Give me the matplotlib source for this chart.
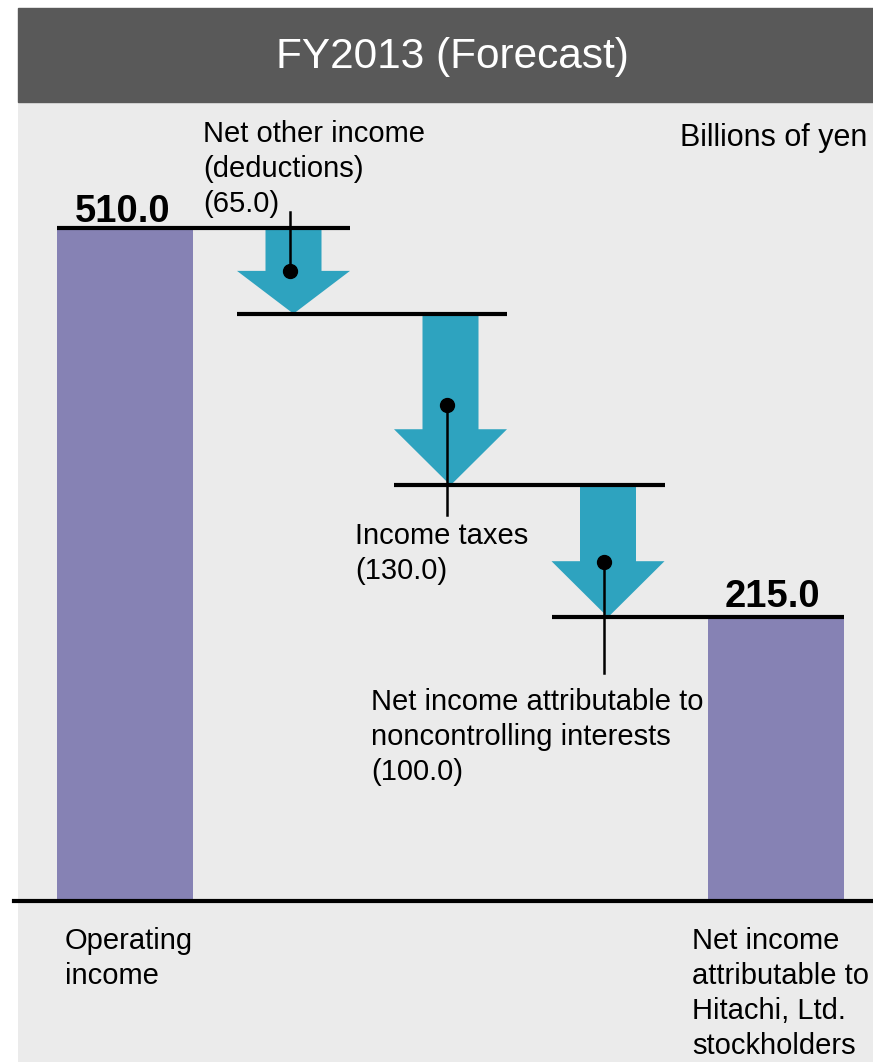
import numpy as np
import matplotlib.pyplot as plt
from matplotlib.patches import Rectangle

plt.rcParams['font.family'] = ['Liberation Sans', 'DejaVu Sans']

# data (billions of yen)
title = 'FY2013 (Forecast)'
unit_label = 'Billions of yen'
step_names = ['Operating\nincome',
              'Net other income\n(deductions)',
              'Income taxes',
              'Net income attributable to\nnoncontrolling interests',
              'Net income\nattributable to\nHitachi, Ltd.\nstockholders']
amounts = [510.0, -65.0, -130.0, -100.0, 215.0]
is_total = [True, False, False, False, True]

bar_color = '#8682b4'
arrow_color = '#2ea3bf'

W, H = 873, 1062
fig = plt.figure(figsize=(W / 100, H / 100), dpi=100)

# dark header strip
fig.patches.append(Rectangle((18 / W, 1 - 102 / H), 1 - 18 / W, 94 / H,
                             transform=fig.transFigure, color='#595959', zorder=0))
fig.text(452 / W, 1 - 57 / H, title, color='white', fontsize=30.5,
         ha='center', va='center')

ax = fig.add_axes([18 / W, 0, 1 - 18 / W, (H - 102) / H])
ax.set_facecolor('#ebebeb')
px = 673 / 510  # pixels per billion yen
ax.set_xlim(18, 873)
ax.set_ylim(-(H - 901) / px, (901 - 102) / px)
ax.set_xticks([])
ax.set_yticks([])
for s in ax.spines.values():
    s.set_visible(False)

xpos = [125, 293.5, 450.5, 608, 776]
bar_w, shaft_w, head_w = 136, 56, 113

levels = np.cumsum(amounts)
levels[-1] = amounts[-1]
for i, (v, tot) in enumerate(zip(amounts, is_total)):
    if tot:
        ax.bar(xpos[i], v, width=bar_w, color=bar_color, zorder=1)
    else:
        top = levels[i - 1]
        hl = min(42.5, 0.5 * abs(v))
        ax.arrow(xpos[i], top, 0, v, width=shaft_w, head_width=head_w,
                 head_length=hl, length_includes_head=True,
                 color=arrow_color, lw=0, zorder=1)

# connector lines between the steps
half = [bar_w / 2 if t else head_w / 2 for t in is_total]
for i in range(len(amounts) - 1):
    ax.plot([xpos[i] - half[i], xpos[i + 1] + half[i + 1]], [levels[i], levels[i]],
            color='black', lw=3, solid_capstyle='butt', zorder=3)

# baseline
ax.plot([14, 873], [0, 0], color='black', lw=3, clip_on=False, zorder=3)

# callout dots and leader lines for the deductions
dot_y = [477.4, 375.9, 256.9]
lead_end = [522.1, 292.5, 172.8]
for k, i in enumerate([1, 2, 3]):
    x = xpos[i] - 4
    ax.plot([x, x], [dot_y[k], lead_end[k]], color='black', lw=1.8, zorder=4)
    ax.plot(x, dot_y[k], 'o', color='black', ms=10, zorder=5)

fs = 21
ls = 1.32
ax.text(203, 591.8, step_names[1] + '\n({:.1f})'.format(-amounts[1]),
        fontsize=fs, va='top', ha='left', linespacing=ls)
ax.text(355, 287.2, step_names[2] + '\n({:.1f})'.format(-amounts[2]),
        fontsize=fs, va='top', ha='left', linespacing=ls)
ax.text(371, 161.4, step_names[3] + '\n({:.1f})'.format(-amounts[3]),
        fontsize=fs, va='top', ha='left', linespacing=ls)
ax.text(65, -19.7, step_names[0], fontsize=fs, va='top', ha='left', linespacing=ls)
ax.text(692, -19.7, step_names[4], fontsize=fs, va='top', ha='left', linespacing=ls)
ax.text(867, 589.6, unit_label, fontsize=22, va='top', ha='right')

ax.text(122.5, amounts[0] + 4.5, '{:.1f}'.format(amounts[0]), fontsize=27.5,
        fontweight='bold', ha='center', va='baseline')
ax.text(772, amounts[4] + 7.5, '{:.1f}'.format(amounts[4]), fontsize=27.5,
        fontweight='bold', ha='center', va='baseline')

fig.savefig('out.png', dpi=100)
